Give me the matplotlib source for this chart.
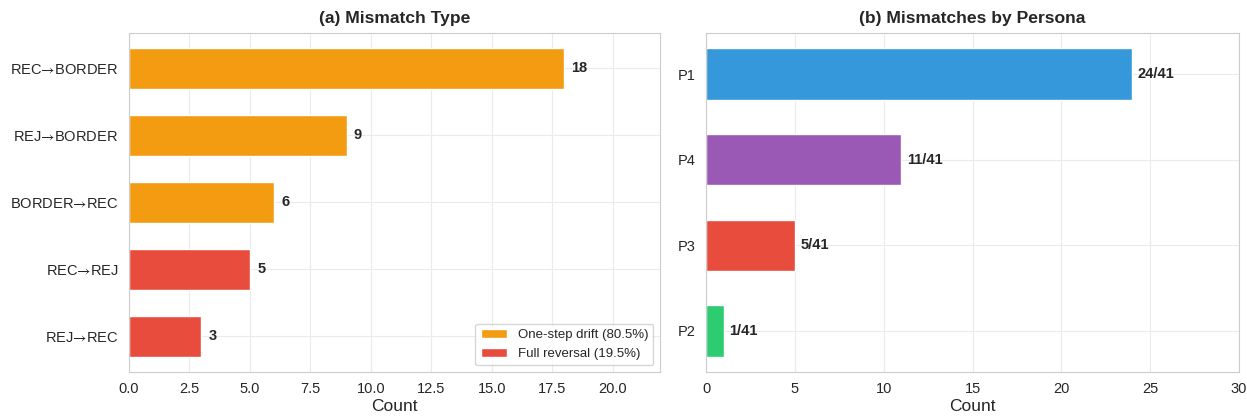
import matplotlib
matplotlib.use("Agg")
import matplotlib.pyplot as plt
import seaborn as sns
from matplotlib.patches import Patch

sns.set_style("whitegrid")
plt.rcParams["font.family"] = ["Liberation Sans", "DejaVu Sans"]
plt.rcParams["mathtext.fontset"] = "stixsans"

# Panel (a): mismatch types
mismatch_types = ["REC→BORDER", "REJ→BORDER", "BORDER→REC", "REC→REJ", "REJ→REC"]
mismatch_counts = [18, 9, 6, 5, 3]
mismatch_kind = ["drift", "drift", "drift", "reversal", "reversal"]

# Panel (b): mismatches per persona
personas = ["P1", "P4", "P3", "P2"]
persona_counts = [24, 11, 5, 1]
persona_total = 41

kind_colors = {"drift": "#f39c12", "reversal": "#e74c3c"}
persona_colors = ["#3498db", "#9b59b6", "#e74c3c", "#2ecc71"]

fig = plt.figure(figsize=(12.47, 4.17), dpi=100)
ax1 = fig.add_axes([0.1034, 0.108, 0.4259, 0.8129])
ax2 = fig.add_axes([0.5662, 0.108, 0.4274, 0.8129])

for ax in (ax1, ax2):
    for s in ax.spines.values():
        s.set_color("#cccccc")
    ax.grid(True, color="#ebebeb", linewidth=0.8)
    ax.tick_params(labelsize=10.5, colors="#262626", pad=4)

# (a)
y1 = list(range(len(mismatch_types)))
ax1.barh(y1, mismatch_counts, height=0.6,
         color=[kind_colors[k] for k in mismatch_kind], edgecolor="white")
ax1.set_yticks(y1)
# long arrow glyph taken from the STIX math font
ax1.set_yticklabels([t.replace("→", "$→$") for t in mismatch_types])
ax1.invert_yaxis()
ax1.set_xlim(0, max(mismatch_counts) * 1.22)
for yi, c in zip(y1, mismatch_counts):
    ax1.text(c + 0.3, yi, str(c), va="center", ha="left",
             fontsize=10.5, fontweight="bold", color="#262626")
ax1.set_xlabel("Count", fontsize=12.5, color="#262626", labelpad=2)
ax1.set_title("(a) Mismatch Type", fontsize=12.6, fontweight="bold", color="#262626", pad=7)
n_total = sum(mismatch_counts)
drift_pct = 100 * sum(c for c, k in zip(mismatch_counts, mismatch_kind) if k == "drift") / n_total
rev_pct = 100 * sum(c for c, k in zip(mismatch_counts, mismatch_kind) if k == "reversal") / n_total
handles = [Patch(facecolor=kind_colors["drift"], label=f"One-step drift ({drift_pct:.1f}%)"),
           Patch(facecolor=kind_colors["reversal"], label=f"Full reversal ({rev_pct:.1f}%)")]
ax1.legend(handles=handles, loc="lower right", fontsize=9.5, frameon=True)

# (b)
y2 = list(range(len(personas)))
ax2.barh(y2, persona_counts, height=0.6, color=persona_colors, edgecolor="white")
ax2.set_yticks(y2)
ax2.set_yticklabels(personas)
ax2.invert_yaxis()
ax2.set_xlim(0, 30)
for yi, c in zip(y2, persona_counts):
    ax2.text(c + 0.3, yi, f"{c}/{persona_total}", va="center", ha="left",
             fontsize=10.5, fontweight="bold", color="#262626")
ax2.set_xlabel("Count", fontsize=12.5, color="#262626", labelpad=2)
ax2.set_title("(b) Mismatches by Persona", fontsize=12.6, fontweight="bold", color="#262626", pad=7)

fig.savefig("out.png", dpi=100)
